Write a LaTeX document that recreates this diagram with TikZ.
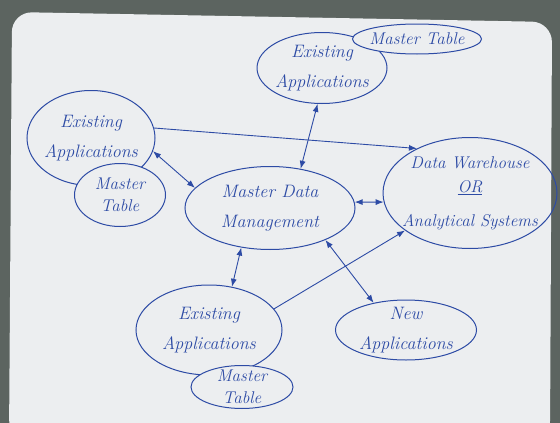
\documentclass[tikz,border=0pt]{standalone}
\usetikzlibrary{shapes.geometric,arrows.meta}
\definecolor{ink}{RGB}{45,75,165}
\definecolor{sheet}{RGB}{236,238,240}
\definecolor{backdrop}{RGB}{92,100,96}

\begin{document}
\begin{tikzpicture}
[
	x=1pt,y=-1pt,
	blob/.style={ellipse,draw=ink,text=ink,line width=1pt,inner xsep=-30pt,inner ysep=-25pt,align=center,font=\fontsize{18}{30}\selectfont\itshape},
	tableblob/.style={blob,fill=sheet,font=\fontsize{17}{22}\selectfont\itshape},
	link/.style={ink,line width=0.9pt},
	>={Latex[length=8pt,width=6pt]}
]
	\useasboundingbox (0,0) rectangle (560,423);

	% photo backdrop and sheet
	\fill[backdrop] (0,0) rectangle (560,423);
	\fill[sheet,rounded corners=20pt] (9,440) -- (12,12) -- (552,22) -- (550,440) -- cycle;

	% applications and tables
	\node[blob,minimum width=130pt,minimum height=71pt] (topapps) at (322,68) {Existing\\Applications};
	\node[tableblob,minimum width=129pt,minimum height=30pt] (toptable) at (417,39) {Master Table};

	\node[blob,minimum width=128pt,minimum height=95pt] (leftapps) at (91,138) {Existing\\Applications};
	\node[tableblob,minimum width=91pt,minimum height=63pt] (lefttable) at (120,195) {Master\\Table};

	\node[blob,minimum width=170pt,minimum height=83pt] (mdm) at (270,208) {Master Data\\Management};
	\node[blob,minimum width=174pt,minimum height=111pt,font=\fontsize{17}{24}\selectfont\itshape] (dwh) at (470,193) {Data Warehouse\\\underline{OR}\\[10pt]Analytical Systems};

	\node[blob,minimum width=146pt,minimum height=90pt] (botapps) at (209,330) {Existing\\Applications};
	\node[tableblob,minimum width=102pt,minimum height=43pt] (bottable) at (242,387) {Master\\Table};

	\node[blob,minimum width=141pt,minimum height=60pt] (newapps) at (406,330) {New\\Applications};

	% links
	\draw[link,<->] (topapps.-97) -- (mdm.52);
	\draw[link,<->] (leftapps.-12) -- (mdm.165);
	\draw[link,->] (leftapps.9) -- (dwh.140);
	\draw[link,<->] (mdm.4) -- (dwh.186);
	\draw[link,<->] (mdm.-126) -- (botapps.62);
	\draw[link,<->] (mdm.-30) -- (newapps.140);
	\draw[link,->] (botapps.18) -- (dwh.210);

\end{tikzpicture}
\end{document}
